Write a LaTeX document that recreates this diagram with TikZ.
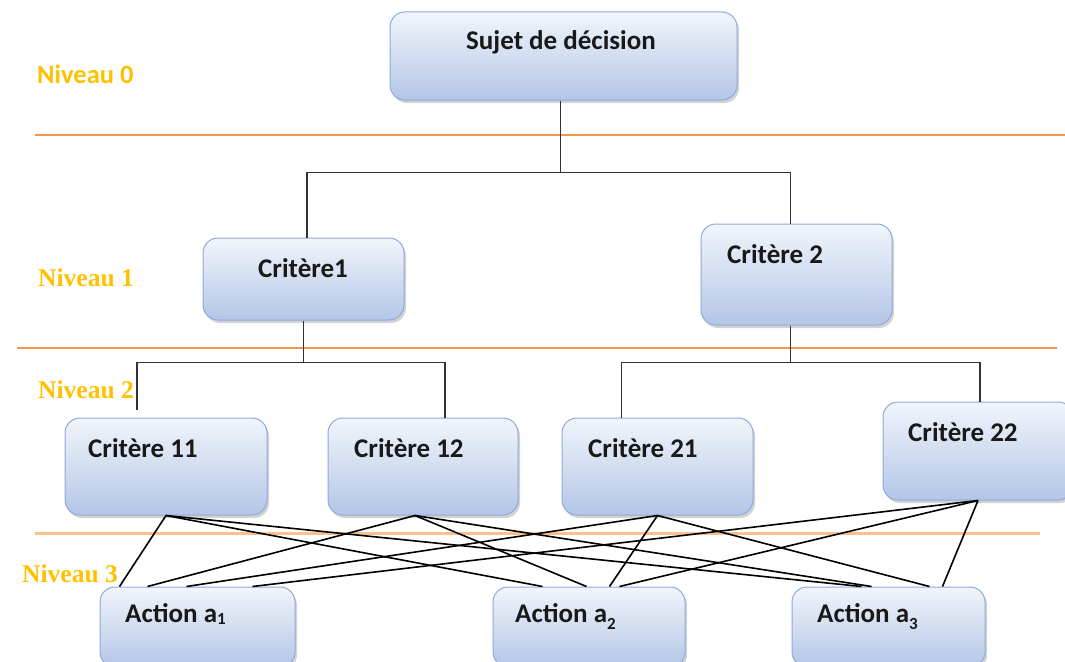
\documentclass[tikz,border=0pt]{standalone}
\usepackage{fontspec}
\setmainfont{Carlito}
\newfontfamily\levelfont{Liberation Serif}
\usetikzlibrary{shadows}
\definecolor{boxtop}{HTML}{F2F5FB}
\definecolor{boxbot}{HTML}{B3C6E7}
\definecolor{boxedge}{HTML}{8FAADC}
\definecolor{levelgold}{HTML}{FFC000}
\definecolor{lineorange}{HTML}{F79646}
\definecolor{linepeach}{HTML}{FAC090}
\newcommand{\actsub}[2]{\raisebox{#1}{\fontsize{17}{17}\selectfont #2}}
\tikzset{
  critbox/.style={draw=boxedge,line width=1pt,rounded corners=15pt,
    top color=boxtop,bottom color=boxbot,inner sep=0pt,
    drop shadow={shadow xshift=2pt,shadow yshift=-3pt,opacity=0.35}},
  boxtext/.style={font=\fontsize{27}{31}\selectfont\bfseries,text=black!90,inner sep=0pt},
  niveau/.style={text=levelgold,inner sep=0pt,anchor=base west},
  levelline/.style={draw=lineorange,line width=1.6pt},
  link/.style={draw=black!80,line width=1.9pt},
  cross/.style={draw=black,line width=1.6pt}
}
\begin{document}
\begin{tikzpicture}[x=1pt,y=-1pt]
\useasboundingbox (0,0) rectangle (1065,661);
% separations between levels
\draw[levelline] (35,135) -- (1065,135);
\draw[levelline] (17,348) -- (1057,348);
\draw[levelline,draw=linepeach,line width=3pt] (35,533) -- (1040,533);
% level names
\node[niveau,font=\fontsize{26.5}{30}\selectfont\bfseries] (n0) at (37,84) {Niveau 0};
\node[niveau,font=\levelfont\fontsize{25.5}{30}\selectfont\bfseries] (n1) at (38,286) {Niveau 1};
\node[niveau,font=\levelfont\fontsize{25.5}{30}\selectfont\bfseries] (n2) at (38,398) {Niveau 2};
\node[niveau,font=\levelfont\fontsize{25.5}{30}\selectfont\bfseries] (n3) at (22,582) {Niveau 3};
% boxes
\node[critbox,minimum width=347pt,minimum height=88pt] (sujet) at (563.5,56) {};
\node[critbox,minimum width=201pt,minimum height=82pt] (c1) at (303.5,279) {};
\node[critbox,minimum width=191pt,minimum height=101pt] (c2) at (796.5,274.5) {};
\node[critbox,minimum width=202pt,minimum height=97pt] (c11) at (166,466.5) {};
\node[critbox,minimum width=190pt,minimum height=97pt] (c12) at (423,466.5) {};
\node[critbox,minimum width=191pt,minimum height=97pt] (c21) at (657.5,466.5) {};
\node[critbox,minimum width=190pt,minimum height=98pt] (c22) at (978,451) {};
\node[critbox,minimum width=195pt,minimum height=80pt] (a1) at (197.5,627) {};
\node[critbox,minimum width=192pt,minimum height=80pt] (a2) at (589,627) {};
\node[critbox,minimum width=193pt,minimum height=80pt] (a3) at (888.5,627) {};
% texts
\node[boxtext,anchor=base] (tsujet) at (561,50) {Sujet de décision};
\node[boxtext,anchor=base west] (tc1) at (258,277) {Critère1};
\node[boxtext,anchor=base west] (tc2) at (727,263) {Critère 2};
\node[boxtext,anchor=base west] (tc11) at (88,457) {Critère 11};
\node[boxtext,anchor=base west] (tc12) at (354,457) {Critère 12};
\node[boxtext,anchor=base west] (tc21) at (588,457) {Critère 21};
\node[boxtext,anchor=base west] (tc22) at (908,441) {Critère 22};
\node[boxtext,anchor=base west] (ta1) at (125,622) {Action a\actsub{-2pt}{1}};
\node[boxtext,anchor=base west] (ta2) at (515,622) {Action a\actsub{-7pt}{2}};
\node[boxtext,anchor=base west] (ta3) at (817,622) {Action a\actsub{-7pt}{3}};
% hierarchy
\coordinate (k11) at (137,410);
\draw[link] ([xshift=-3pt]sujet.south) -- ++(0,72) -| ([xshift=3.5pt]c1.north);
\draw[link] ([xshift=-3pt]sujet.south) ++(0,72) -| ([xshift=-6pt]c2.north);
\draw[link] (c1.south) -- ++(0,42) -| (k11);
\draw[link] (c1.south) ++(0,42) -| ([xshift=22pt]c12.north);
\draw[link] ([xshift=-6pt]c2.south) -- ++(0,37) -| ([xshift=-36pt]c21.north);
\draw[link] ([xshift=-6pt]c2.south) ++(0,37) -| ([xshift=2pt]c22.north);
% criteria to actions
\draw[cross] (c11.south) -- ([xshift=20pt]a1.north west);
\draw[cross] (c11.south) -- ([xshift=50pt]a2.north west);
\draw[cross] (c11.south) -- ([xshift=70pt]a3.north west);
\draw[cross] ([xshift=-8pt]c12.south) -- ([xshift=48pt]a1.north west);
\draw[cross] ([xshift=-8pt]c12.south) -- ([xshift=94pt]a2.north west);
\draw[cross] ([xshift=-8pt]c12.south) -- ([xshift=80pt]a3.north west);
\draw[cross] (c21.south) -- ([xshift=87pt]a1.north west);
\draw[cross] (c21.south) -- ([xshift=117pt]a2.north west);
\draw[cross] (c21.south) -- ([xshift=138pt]a3.north west);
\draw[cross] (c22.south) -- ([xshift=153pt]a1.north west);
\draw[cross] (c22.south) -- ([xshift=127pt]a2.north west);
\draw[cross] (c22.south) -- ([xshift=151pt]a3.north west);
\end{tikzpicture}
\end{document}
